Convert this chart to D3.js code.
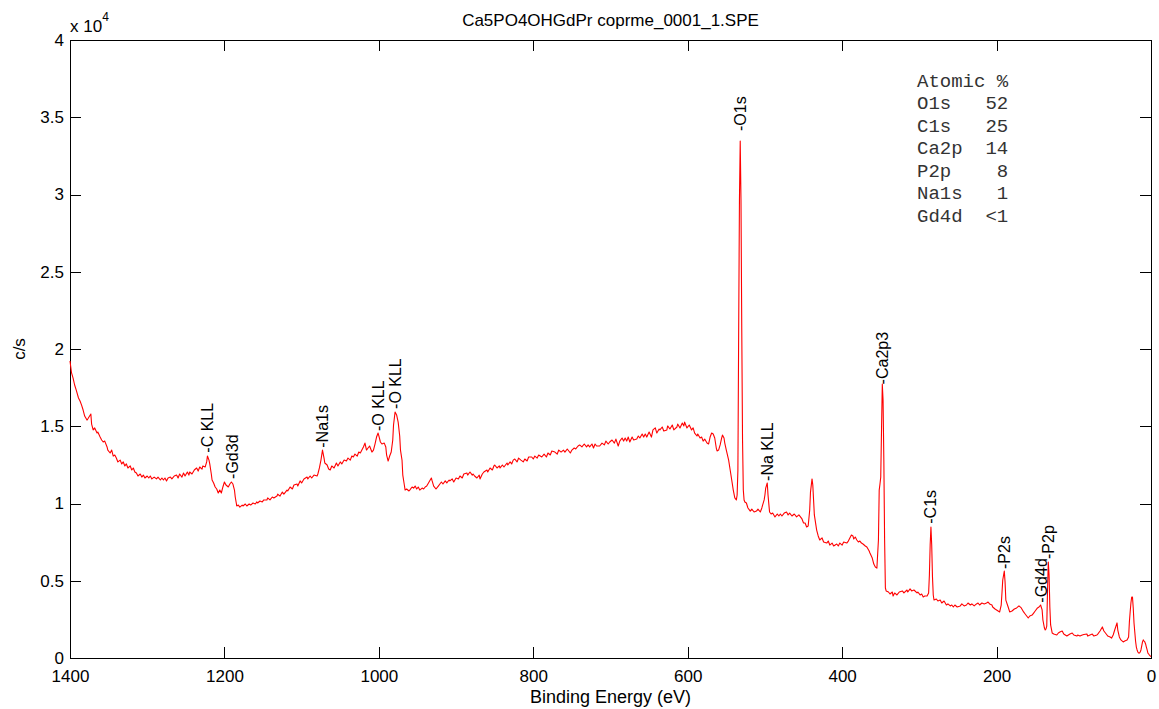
<!DOCTYPE html>
<html><head><meta charset="utf-8">
<script src="https://cdn.jsdelivr.net/npm/d3@7"></script>
<style>body{margin:0;background:#fff}svg{display:block}</style>
</head><body><svg id="c" width="1159" height="709"></svg>
<script>
// Binding energy (eV) and intensity (c/s)
const energy = [
1400,1398,1396,1394,1392,1389,1387,1385,1383,1381,1378,1377,1373,1372,1370,1368,1365,1364,1361,1359,
1357,1355,1352,1351,1348,1346,1344,1342,1340,1338,1335,1333,1331,1329,1327,1325,1322,1320,1318,1316,
1314,1312,1309,1307,1305,1303,1300,1298,1296,1294,1291,1288,1286,1283,1281,1279,1277,1275,1273,1270,
1268,1265,1262,1260,1258,1255,1253,1251,1248,1246,1245,1242,1239,1236,1234,1232,1229,1228,1225,1223,
1222,1220,1219,1217,1216,1214,1212,1210,1208,1206,1204,1202,1200,1198,1195,1193,1191,1189,1187,1186,
1184,1182,1180,1177,1176,1173,1171,1168,1166,1163,1160,1158,1157,1154,1151,1149,1145,1144,1141,1138,
1136,1132,1131,1128,1125,1123,1119,1118,1115,1112,1110,1106,1105,1102,1100,1097,1093,1092,1089,1087,
1084,1080,1079,1077,1075,1073,1071,1070,1067,1065,1063,1061,1058,1055,1053,1050,1048,1045,1042,1040,
1037,1035,1033,1031,1028,1026,1024,1022,1020,1018,1016,1014,1012,1009,1007,1005,1003,1001,1000,998,
996,993,991,990,988,986,984,982,981,979,977,975,973,972,970,969,967,966,964,961,
960,957,955,953,951,949,947,944,942,940,938,935,932,931,929,926,923,921,919,917,
914,912,909,908,905,903,900,897,895,892,890,886,885,882,879,878,876,873,870,869,
866,864,860,859,856,853,851,850,847,844,843,840,838,834,833,830,828,826,824,821,
819,816,813,811,808,806,802,800,798,795,793,789,786,783,781,778,776,772,769,767,
764,761,759,756,752,750,747,745,742,740,737,734,731,729,727,724,722,720,718,714,
711,708,706,703,701,698,695,693,690,688,685,683,681,679,677,675,672,670,666,664,
662,659,657,655,653,650,647,645,642,640,637,636,633,631,627,626,623,620,618,614,
613,610,607,605,604,601,598,595,593,591,588,587,584,582,580,578,575,573,571,569,
567,565,563,562,560,558,556,555,553,552,550,547,545,543,541,539,537,536,535,534,
533,532,531,530,529,528,527,526,524,522,519,517,514,511,509,506,504,503,501,500,
499,497,496,494,492,490,487,484,482,480,478,475,472,470,468,465,462,459,456,452,
450,448,446,444,442,441,439,438,437,436,433,431,429,426,424,420,418,416,413,411,
407,405,403,400,398,394,392,390,388,386,385,383,381,379,377,375,373,370,368,365,
364,361,359,357,355,353,352,351,350,349,348,347,346,345,344,343,340,338,335,334,
332,329,326,322,320,316,315,312,310,307,303,302,299,297,295,293,290,288,287,286,
285,284,283,282,281,278,276,273,271,268,265,263,260,258,256,254,251,247,245,242,
239,237,234,232,229,226,224,222,219,216,213,211,209,206,205,202,200,198,196,194,
193,192,190,189,188,185,183,180,177,174,171,168,165,163,161,159,157,154,152,150,
147,145,143,141,140,138,137,136,135,134,133,132,131,130,128,126,122,120,118,115,
113,109,107,105,102,100,96,95,92,89,87,83,82,79,76,74,70,69,66,63,
61,57,56,53,51,49,47,44,43,41,39,36,34,31,29,28,27,26,25,24,
23,22,21,20,19,18,17,16,15,14,13,12,11,10,9,8,7,6,5,4,
3,2,1,0];
const counts = [
19220,18450,18120,17670,17350,16830,16630,16370,16050,15660,15400,15470,15790,15140,14760,14890,14560,14630,14300,14110,
13980,14040,13660,13460,13270,13460,13070,13140,12940,12690,12810,12560,12690,12430,12560,12300,12430,12170,12300,12040,
11970,11780,11910,11710,11840,11650,11780,11650,11780,11590,11710,11590,11710,11520,11650,11520,11650,11460,11650,11710,
11590,11780,11840,11650,11910,11710,11970,11780,12040,11840,12040,11910,12170,12300,12100,12360,12230,12430,12360,12690,
13070,12810,12560,11910,11520,11330,11070,10940,10680,10870,10680,11070,11390,11200,11070,11260,11390,11260,10870,10420,
9840,9900,9770,9900,9840,9970,9840,9970,9900,10030,9970,10100,10030,10160,10100,10230,10230,10360,10230,10420,
10360,10480,10610,10480,10740,10610,10870,10810,11070,10940,11200,11260,11130,11460,11330,11590,11710,11590,11780,11650,
11840,11780,11910,12300,12810,13460,12940,12620,12490,12230,12170,12430,12300,12620,12430,12690,12560,12810,12750,12940,
12810,13070,13010,13200,13070,13330,13270,13460,13660,13910,13460,13590,13720,13330,13460,13850,14300,14560,14370,13980,
13850,13910,13660,13140,12750,13070,13330,14110,15080,15920,15730,15270,14370,13460,12810,11840,11200,10870,10940,10810,
10870,11070,11000,11130,10940,11070,10870,11000,10940,11070,11130,11390,11650,11460,11130,10940,11130,11260,11390,11260,
11460,11330,11520,11460,11590,11390,11650,11590,11780,11650,11910,11970,11840,12040,11840,11910,11780,11650,11840,11590,
11910,12040,12170,12040,12300,12170,12430,12490,12300,12430,12300,12490,12360,12620,12490,12690,12560,12810,12880,12690,
12940,12810,12690,12880,12750,13010,13010,12880,13070,12940,13140,13010,13200,13010,13270,13140,13400,13330,13200,13460,
13330,13460,13330,13530,13270,13460,13590,13530,13720,13790,13660,13850,13660,13790,13660,13850,13590,13850,13720,13720,
13910,13790,14040,13850,13980,14110,13910,14170,13720,14040,14240,14040,14240,14040,14300,13980,14300,14110,14170,14370,
14240,14500,14300,14500,14300,14630,14300,14760,14890,14560,14820,14760,14950,14690,14760,15020,14820,15080,14760,14950,
15140,14890,15210,15020,15270,14890,15080,14760,14890,14560,14370,14500,14240,14300,14040,14170,13910,13850,14300,14560,
14500,14240,13590,13400,13460,13790,14240,14430,14240,13910,13460,12810,12170,11520,10870,10360,10230,10550,12170,21230,
29640,33460,29640,21230,14110,10870,10230,10100,10030,9710,9510,9640,9450,9510,9640,9450,9710,9900,10230,10550,
11000,11330,10550,9450,9320,9380,9130,9320,9190,9320,9190,9380,9450,9260,9380,9190,9320,9130,9260,9000,
8740,8740,8480,8540,9580,10740,11590,11200,10230,9260,8280,7900,7640,7770,7510,7440,7570,7310,7440,7250,
7380,7250,7440,7310,7510,7440,7570,7770,7960,7900,7700,7830,7640,7510,7570,7440,7380,7250,7180,6930,
6800,6470,6080,5890,5820,7640,10870,11260,11710,14760,17730,16700,12810,7640,4530,4340,4270,4140,4270,4010,
4210,4080,4270,4340,4210,4400,4270,4470,4340,4400,4210,4270,4080,4140,3950,4010,4010,4210,5370,7310,
8480,7310,5240,4080,3750,3820,3690,3750,3560,3690,3430,3500,3370,3430,3300,3430,3300,3370,3500,3370,
3430,3560,3430,3500,3370,3500,3560,3430,3560,3500,3560,3620,3500,3430,3300,3170,3110,3040,2980,3430,
4210,5050,5630,4920,3750,3300,2980,3040,3170,3240,3370,3240,2980,2850,2720,2590,2720,2780,2910,3040,
3240,3300,3430,3110,2460,1940,1810,1880,2070,4400,6210,5370,3300,2140,1620,1550,1490,1620,1680,1750,
1550,1420,1490,1550,1620,1490,1420,1490,1420,1490,1520,1550,1420,1490,1550,1420,1490,1550,1750,2010,
1750,1490,1420,1360,1290,1490,1810,2270,1810,1360,1170,1040,1100,1170,1360,2330,2980,3560,3950,3950,
3240,2270,1680,1100,710,520,390,320,320,390,520,780,1040,1170,1100,1040,910,710,520,320,
260,190,130,100];

// Peak labels: name, energy (eV), label anchor (c/s)
const peakNames  = ["C KLL","Gd3d","Na1s","O KLL","O KLL","O1s","Na KLL","Ca2p3","C1s","P2s","Gd4d","P2p"];
const peakEnergy = [1222,1189,1073,1001,979,532,497,348,285,190,142,133];
const peakCounts = [13290,11590,13610,14690,16120,34110,11460,17710,8690,5760,3580,6410];

// Atomic % table
const atomicElements = ["O1s","C1s","Ca2p","P2p","Na1s","Gd4d"];
const atomicPercent  = ["52","25","14","8","1","<1"];

// Axis ticks
const xTicks = [1400,1200,1000,800,600,400,200,0];
const yTicks = [0,5000,10000,15000,20000,25000,30000,35000,40000];
const yTickLabels = ["0","0.5","1","1.5","2","2.5","3","3.5","4"];

const titleText = "Ca5PO4OHGdPr coprme_0001_1.SPE";
const xLabel = "Binding Energy (eV)";
const yLabel = "c/s";

const SANS = "'Liberation Sans', Arial, Helvetica, sans-serif";
const L = 70, R = 1151, T = 40, B = 658;
const svg = d3.select("#c");
svg.append("rect").attr("width",1159).attr("height",709).attr("fill","#fff");

const x = d3.scaleLinear().domain([1400,0]).range([L,R]);
const y = d3.scaleLinear().domain([0,40000]).range([B,T]);

const TK = 11;
function styleAxis(g){
  g.selectAll("path.domain").attr("stroke","#000").attr("stroke-width",1).attr("shape-rendering","crispEdges");
  g.selectAll(".tick line").attr("stroke","#000").attr("stroke-width",1).attr("shape-rendering","crispEdges");
  g.selectAll(".tick text").attr("fill","#000").style("font-family",SANS).style("font-size","17px");
}
svg.append("g").attr("transform",`translate(0,${B})`)
  .call(d3.axisBottom(x).tickValues(xTicks).tickSizeInner(-TK).tickSizeOuter(0).tickPadding(12).tickFormat(d3.format("d")))
  .call(styleAxis);
svg.append("g").attr("transform",`translate(0,${T})`)
  .call(d3.axisTop(x).tickValues(xTicks).tickSizeInner(-TK).tickSizeOuter(0).tickFormat(""))
  .call(styleAxis);
svg.append("g").attr("transform",`translate(${L},0)`)
  .call(d3.axisLeft(y).tickValues(yTicks).tickSizeInner(-TK).tickSizeOuter(0).tickPadding(6).tickFormat((d,i)=>yTickLabels[i]))
  .call(styleAxis);
svg.append("g").attr("transform",`translate(${R},0)`)
  .call(d3.axisRight(y).tickValues(yTicks).tickSizeInner(-TK).tickSizeOuter(0).tickFormat(""))
  .call(styleAxis);

// Exponent
const ex = svg.append("text").attr("x",L).attr("y",32).style("font-family",SANS).style("font-size","17px").attr("fill","#000");
ex.append("tspan").text("x 10");
ex.append("tspan").attr("dy",-11).style("font-size","12px").text("4");

// Spectrum
const pts = energy.map((e,i)=>[e,counts[i]]);
svg.append("path").datum(pts)
  .attr("fill","none").attr("stroke","#ff0000").attr("stroke-width",1.1).attr("stroke-linejoin","round")
  .attr("d", d3.line().x(d=>x(d[0])).y(d=>y(d[1])));

// Peak labels
svg.append("g").selectAll("text").data(peakNames).join("text")
  .attr("transform",(d,i)=>`translate(${x(peakEnergy[i])},${y(peakCounts[i])}) rotate(-90)`)
  .attr("dominant-baseline","central")
  .style("font-family",SANS).style("font-size","16px").attr("fill","#000")
  .text(d=>"-"+d);

// Atomic % table
const rows = ["Atomic %"].concat(atomicElements.map((e,i)=>e.padEnd(6," ")+atomicPercent[i].padStart(2," ")));
svg.append("g").selectAll("text").data(rows).join("text")
  .attr("x",917).attr("y",(d,i)=>86.5+i*22.5)
  .style("font-family","'Liberation Mono','Courier New',monospace").style("font-size","19px")
  .style("white-space","pre").attr("fill","#333")
  .text(d=>d);

// Title and axis labels
svg.append("text").attr("x",(L+R)/2).attr("y",26).attr("text-anchor","middle")
  .style("font-family",SANS).style("font-size","17px").attr("fill","#000").text(titleText);
svg.append("text").attr("x",(L+R)/2).attr("y",703).attr("text-anchor","middle")
  .style("font-family",SANS).style("font-size","18px").attr("fill","#000").text(xLabel);
svg.append("text").attr("transform",`translate(25,${(T+B)/2}) rotate(-90)`).attr("text-anchor","middle")
  .style("font-family",SANS).style("font-size","17px").attr("fill","#000").text(yLabel);
</script></body></html>
